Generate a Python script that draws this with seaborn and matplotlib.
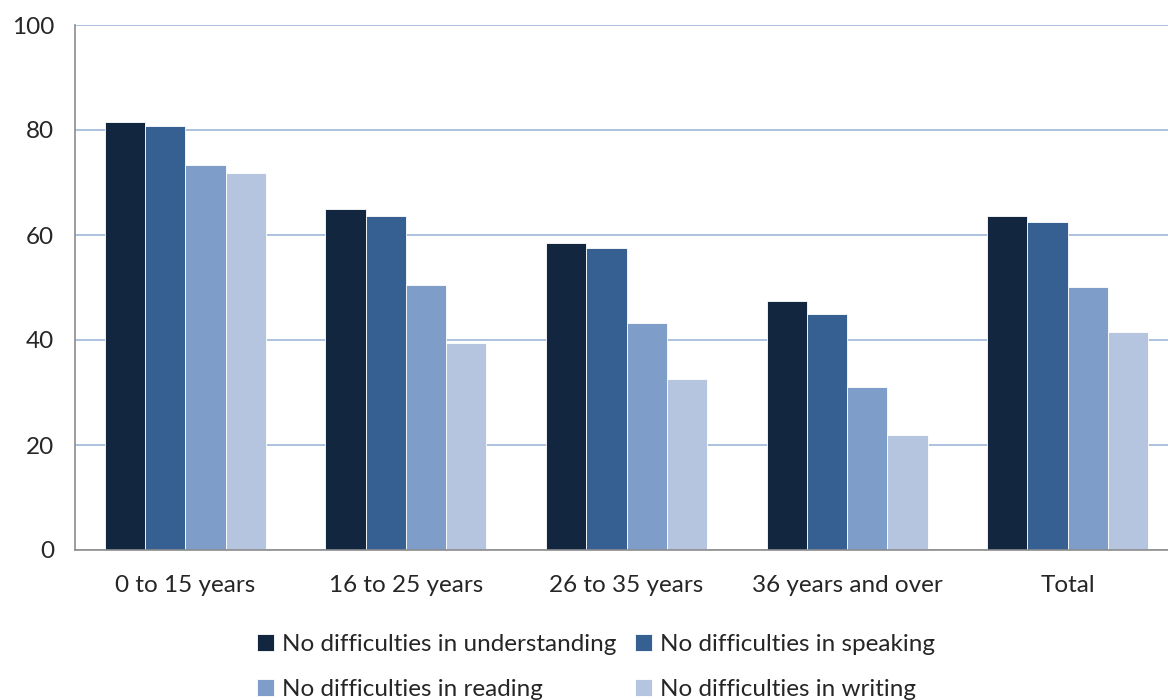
import numpy as np
import pandas as pd
import matplotlib
matplotlib.use("Agg")
import matplotlib.pyplot as plt
import seaborn as sns

categories = ["0 to 15 years", "16 to 25 years", "26 to 35 years", "36 years and over", "Total"]
series = ["No difficulties in understanding", "No difficulties in speaking",
          "No difficulties in reading", "No difficulties in writing"]
understanding = [81.6, 65.0, 58.5, 47.5, 63.7]
speaking = [80.7, 63.6, 57.6, 45.0, 62.5]
reading = [73.3, 50.5, 43.3, 31.0, 50.1]
writing = [71.8, 39.5, 32.5, 21.9, 41.6]
colors = ["#13263F", "#366092", "#7F9DC9", "#B6C5DF"]

rows = []
for name, vals in zip(series, [understanding, speaking, reading, writing]):
    for cat, v in zip(categories, vals):
        rows.append({"category": cat, "series": name, "value": v})
df = pd.DataFrame(rows)

sns.set_style("white")
plt.rcParams['font.family'] = ['Lato', 'DejaVu Sans']
fs = 17.5

fig = plt.figure(figsize=(11.68, 7), dpi=100)
ax = fig.add_axes([75/1168, 150/700, 1103/1168, 525/700])

sns.barplot(data=df, x="category", y="value", hue="series", order=categories,
            hue_order=series, palette=colors, width=0.73, gap=0,
            edgecolor="white", linewidth=0.6, saturation=1, ax=ax)

ax.set_ylim(0, 100)
ax.set_xlim(-0.5, len(categories) - 0.5)
ax.set_yticks(range(0, 101, 20))
ax.yaxis.grid(True, color="#9DB8DA", linewidth=1.2)
ax.set_axisbelow(True)
ax.set_xlabel("")
ax.set_ylabel("")
for s in ["top", "right"]:
    ax.spines[s].set_visible(False)
for s in ["left", "bottom"]:
    ax.spines[s].set_color("#8C8C8C")
    ax.spines[s].set_linewidth(1.2)
ax.set_xticks(np.arange(len(categories)))
ax.set_xticklabels(categories)
ax.set_xticks(np.arange(len(categories) + 1) - 0.5, minor=True)
ax.tick_params(axis="x", which="major", length=0, pad=18, labelsize=fs)
ax.tick_params(axis="x", which="minor", length=7, color="#8C8C8C", width=1.2)
ax.tick_params(axis="y", length=7, color="#8C8C8C", width=1.2, labelsize=fs, pad=8)

handles, labels = ax.get_legend_handles_labels()
ax.legend_.remove()
order = [0, 2, 1, 3]
fig.legend([handles[i] for i in order], [labels[i] for i in order],
           loc="center", bbox_to_anchor=(596/1168, 1 - 667/700), ncol=2,
           frameon=False, fontsize=fs, handlelength=0.7, handleheight=0.7,
           handletextpad=0.3, columnspacing=0.8, labelspacing=0.95)

fig.savefig("out.png", dpi=100)
